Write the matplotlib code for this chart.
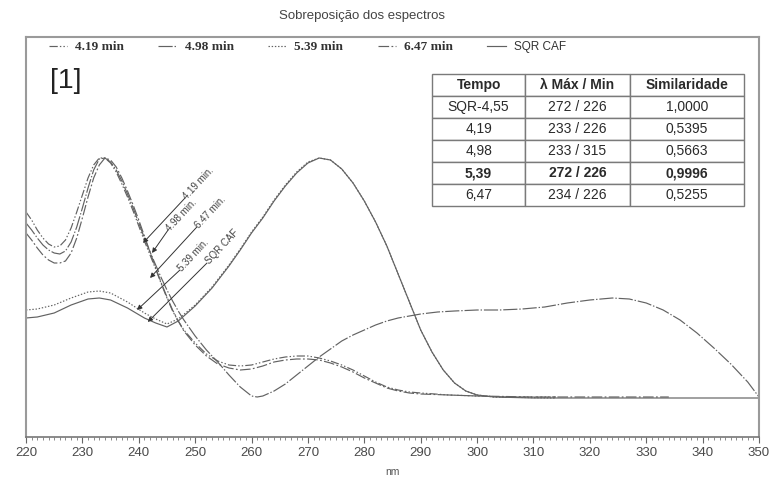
import matplotlib
matplotlib.use("Agg")
import matplotlib.pyplot as plt
from matplotlib.ticker import MultipleLocator
from matplotlib.font_manager import FontProperties

plt.rcParams["font.family"] = ["Liberation Sans", "DejaVu Sans"]

# ---- spectra (wavelength in nm, absorbance in mAU) ----
wl_419 = [220, 221, 222, 223, 224, 225, 226, 227, 228, 229, 230, 231, 232, 233, 234,
          235, 236, 237, 238, 239, 240, 241, 242, 243, 244, 245, 246, 247, 248, 250,
          252, 254, 256, 258, 260, 262, 264, 266, 268, 270, 272, 274, 276, 278, 280,
          282, 284, 286, 288, 290, 295, 300, 305, 314]
ab_419 = [186, 178, 168, 160, 154, 151, 152, 158, 170, 186, 203, 220, 233, 240, 240,
          235, 226, 214, 201, 187, 172, 157, 143, 129, 114, 100, 87, 77, 68, 55,
          44, 37, 33, 32, 33, 36, 39, 41, 42, 42, 40, 37, 33, 28, 22,
          16, 11, 8, 6, 5, 3, 2, 1, 1]

wl_498 = [220, 221, 222, 223, 224, 225, 226, 227, 228, 229, 230, 231, 232, 233, 234,
          235, 236, 237, 238, 239, 240, 241, 242, 243, 244, 245, 246, 247, 248, 250,
          252, 254, 256, 258, 260, 261, 262, 264, 266, 268, 270, 272, 274, 276, 278,
          280, 282, 284, 286, 288, 290, 293, 296, 300, 304, 308, 312, 316, 320, 324,
          327, 330, 333, 336, 339, 342, 345, 348, 350]
ab_498 = [175, 168, 160, 153, 148, 145, 144, 147, 156, 171, 190, 210, 228, 239, 240,
          236, 228, 217, 204, 190, 175, 160, 146, 133, 120, 108, 97, 87, 78, 62,
          48, 36, 23, 11, 2, 1, 2, 7, 14, 23, 32, 41, 49, 57, 63,
          68, 73, 77, 80, 82, 84, 86, 87, 88, 88, 89, 91, 95, 98, 100,
          99, 95, 88, 78, 65, 50, 34, 16, 1]

wl_539 = [220, 222, 225, 228, 231, 233, 235, 238, 241, 243, 245, 247, 250, 253, 256,
          258, 260, 262, 264, 266, 268, 270, 272, 274, 276, 278, 280, 282, 284, 286,
          288, 290, 292, 294, 296, 298, 300, 303, 314]
ab_539 = [88, 89, 93, 100, 106, 107, 105, 96, 85, 79, 74, 79, 93, 111, 133,
          149, 166, 181, 198, 213, 226, 236, 240, 238, 229, 215, 197, 176, 152, 124,
          96, 68, 46, 28, 15, 7, 3, 1, 0]

wl_647 = [220, 221, 222, 223, 224, 225, 226, 227, 228, 229, 230, 231, 232, 233, 234,
          235, 236, 237, 238, 239, 240, 241, 242, 243, 244, 245, 246, 247, 248, 250,
          252, 254, 256, 258, 260, 262, 264, 266, 268, 270, 272, 274, 276, 278, 280,
          282, 284, 286, 288, 290, 295, 300, 310, 334]
ab_647 = [165, 158, 150, 143, 138, 135, 135, 137, 145, 160, 180, 201, 220, 233, 240,
          238, 231, 220, 207, 193, 178, 162, 146, 130, 115, 101, 88, 77, 67, 53,
          42, 34, 30, 28, 29, 32, 36, 38, 39, 39, 38, 35, 31, 26, 20,
          15, 10, 7, 5, 4, 3, 2, 1, 1]

wl_caf = [220, 222, 225, 228, 231, 233, 235, 238, 241, 243, 245, 247, 250, 253, 256,
          258, 260, 262, 264, 266, 268, 270, 272, 274, 276, 278, 280, 282, 284, 286,
          288, 290, 292, 294, 296, 298, 300, 303, 310, 350]
ab_caf = [80, 81, 85, 93, 99, 100, 98, 90, 80, 75, 71, 77, 92, 110, 132,
          148, 165, 180, 197, 212, 225, 235, 240, 238, 229, 215, 197, 176, 152, 124,
          96, 68, 46, 28, 15, 7, 3, 1, 0, 0]

# ---- peak purity table ----
table_header = ["Tempo", "λ Máx / Min", "Similaridade"]
tempo = ["SQR-4,55", "4,19", "4,98", "5,39", "6,47"]
lambda_max_min = ["272 / 226", "233 / 226", "233 / 315", "272 / 226", "234 / 226"]
similaridade = ["1,0000", "0,5395", "0,5663", "0,9996", "0,5255"]
highlight_row = 3

# ---- callouts: label, arrow tip, label anchor (nm, mAU) ----
callout_labels = ["4.19 min.", "4.98 min.", "6.47 min.", "5.39 min.", "SQR CAF"]
callout_tip = [(240.75, 155), (242.35, 145), (242.0, 120), (239.7, 88), (241.6, 76)]
callout_text = [(248.2, 200), (245.2, 168), (250.3, 171), (247.3, 128), (252.1, 135)]

line_color = "#626262"
text_color = "#333333"

fig = plt.figure(figsize=(7.72, 4.8), dpi=100)
ax = fig.add_axes([26 / 772, 43 / 480, 733 / 772, 400 / 480])

series = [
    ("4.19 min", wl_419, ab_419, (0, (7, 1.8, 1.2, 1.8, 1.2, 1.8))),
    ("4.98 min", wl_498, ab_498, (0, (12, 1.6, 1.2, 1.6))),
    ("5.39 min", wl_539, ab_539, (0, (1.2, 1.5))),
    ("6.47 min", wl_647, ab_647, (0, (9, 2, 1.5, 2))),
    ("SQR CAF", wl_caf, ab_caf, "-"),
]
handles = []
for label, wl, ab, ls in series:
    (h,) = ax.plot(wl, ab, color=line_color, lw=0.85, ls=ls, label=label)
    handles.append(h)

ax.set_xlim(220, 350)
ax.set_ylim(-39, 361)
ax.xaxis.set_major_locator(MultipleLocator(10))
ax.xaxis.set_minor_locator(MultipleLocator(1))
ax.set_yticks([])
ax.tick_params(axis="x", which="major", direction="out", length=4, width=0.8,
               color="#666666", labelsize=9.5, labelcolor="#4a4a4a", pad=3)
ax.tick_params(axis="x", which="minor", direction="out", length=2.2, width=0.6,
               color="#777777")
ax.set_xlabel("nm", fontsize=7.5, color="#555555", labelpad=6)

for side in ("left", "top", "right"):
    ax.spines[side].set_color("#9a9a9a")
    ax.spines[side].set_linewidth(1.5)
ax.spines["bottom"].set_color("#777777")
ax.spines["bottom"].set_linewidth(1.2)

fig.text(362 / 772, 1 - 16 / 480, "Sobreposição dos espectros", ha="center",
         va="center", fontsize=9.5, color="#444444")

ax.text(0.0327, 0.89, "[1]", transform=ax.transAxes, ha="left", va="center",
        fontsize=20.5, color="#222222")

# legend across the top of the frame
leg = ax.legend(handles=handles, loc="upper left", bbox_to_anchor=(0.031, 0.99),
                ncol=5, frameon=False, borderaxespad=0, borderpad=0,
                handlelength=1.4, handletextpad=0.6, columnspacing=2.6,
                fontsize=9.5)
serif_bold = FontProperties(family=["Liberation Serif", "DejaVu Serif"],
                            weight="bold", size=9.5)
sans_small = FontProperties(family=["Liberation Sans", "DejaVu Sans"], size=8.5)
for i, t in enumerate(leg.get_texts()):
    t.set_fontproperties(serif_bold if i < 4 else sans_small)
    t.set_color(text_color)

# callouts with arrows to the curves
for label, tip, anchor in zip(callout_labels, callout_tip, callout_text):
    ax.annotate("", xy=tip, xytext=anchor,
                arrowprops=dict(arrowstyle="-|>", color="#333333", lw=0.7,
                                mutation_scale=7, shrinkA=0, shrinkB=0))
    ax.text(anchor[0], anchor[1], label, rotation=47, rotation_mode="anchor",
            ha="left", va="center", fontsize=7, color="#444444")

# peak purity table
rows = [list(r) for r in zip(tempo, lambda_max_min, similaridade)]
tbl = ax.table(cellText=rows, colLabels=table_header, cellLoc="center",
               colWidths=[93, 105, 114],
               bbox=[0.554, 0.5775, 0.4255, 0.33])
tbl.auto_set_font_size(False)
tbl.set_fontsize(10)
for (r, c), cell in tbl.get_celld().items():
    cell.set_edgecolor("#7a7a7a")
    cell.set_linewidth(1.0)
    cell.set_facecolor("white")
    cell.get_text().set_color("#2a2a2a")
    if r == 0 or r == highlight_row + 1:
        cell.get_text().set_fontweight("bold")
tbl.set_zorder(5)

fig.savefig("out.png", dpi=100)
